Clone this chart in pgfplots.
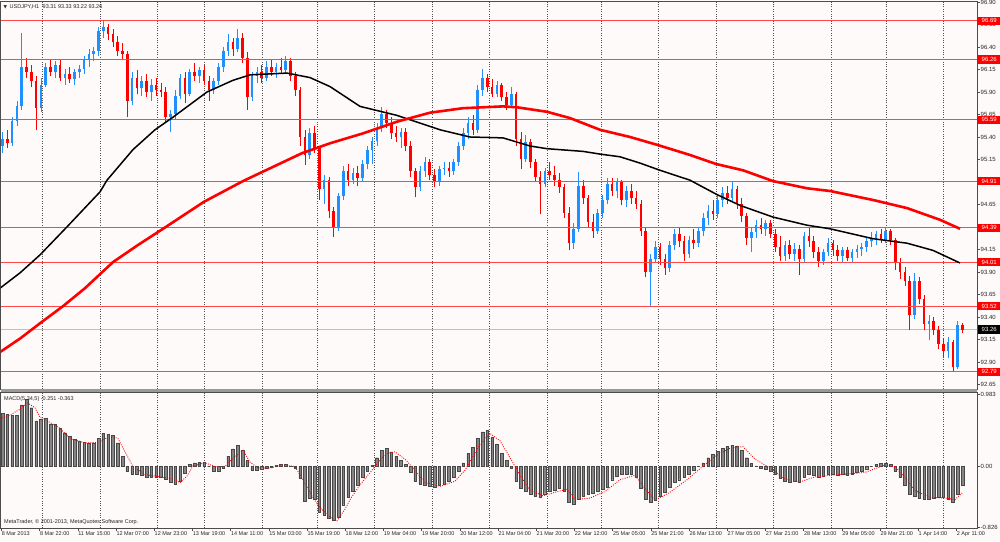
\documentclass[border=0pt]{standalone}
\usepackage{fontspec}
\setmainfont{Liberation Sans}
\newfontfamily\dejavu{DejaVu Sans}
\usepackage{pgfplots}
\usepackage{pgfplotstable}
\pgfplotsset{compat=1.18}
\definecolor{bg}{RGB}{254,250,249}
\definecolor{bullc}{RGB}{30,144,255}
\definecolor{bearc}{RGB}{255,0,0}
\definecolor{lvl}{RGB}{255,70,70}
\definecolor{gridc}{RGB}{80,80,80}
\newcommand{\sm}{\fontsize{5.5}{6}\selectfont}
\tikzset{gridl/.style={gridc, dash pattern=on 1pt off 1.4pt, line width=0.55pt}}

\pgfplotstableread{
x o h l c
2.5 95.30 95.45 95.22 95.38
12.1 95.33 95.62 95.30 95.58
16.9 95.58 95.80 95.52 95.74
21.7 95.74 96.55 95.70 96.18
40.9 95.72 96.05 95.68 95.98
45.7 95.98 96.22 95.95 96.18
55.3 96.12 96.24 96.05 96.20
64.9 96.06 96.15 95.98 96.10
74.5 96.04 96.16 95.98 96.12
79.3 96.12 96.20 96.06 96.16
84.1 96.16 96.30 96.10 96.26
88.9 96.26 96.38 96.18 96.32
93.7 96.32 96.40 96.24 96.36
98.5 96.36 96.62 96.30 96.58
103.3 96.58 96.70 96.50 96.62
132.1 95.80 96.12 95.75 96.05
141.7 95.94 96.08 95.85 96.02
151.3 95.90 96.04 95.80 95.98
170.5 95.62 95.70 95.45 95.66
175.3 95.66 95.92 95.60 95.86
180.1 95.86 96.10 95.82 96.06
189.7 95.88 96.16 95.85 96.12
199.3 96.08 96.18 96.00 96.14
213.7 95.92 96.06 95.88 96.02
218.5 96.02 96.22 95.98 96.18
223.3 96.18 96.40 96.12 96.36
228.1 96.36 96.54 96.30 96.46
237.7 96.38 96.60 96.34 96.50
252.1 95.84 96.12 95.80 96.08
256.9 96.08 96.18 96.00 96.12
266.5 96.06 96.24 96.02 96.18
276.1 96.12 96.22 96.06 96.18
285.7 96.14 96.30 96.10 96.24
309.7 95.20 95.50 95.16 95.44
324.1 94.82 94.98 94.66 94.92
338.5 94.40 94.78 94.36 94.74
343.3 94.74 95.08 94.70 95.02
352.9 94.92 95.06 94.88 95.00
362.5 94.94 95.14 94.90 95.10
367.3 95.10 95.30 95.04 95.26
372.1 95.26 95.40 95.10 95.36
376.9 95.36 95.56 95.30 95.50
381.7 95.50 95.73 95.46 95.66
400.9 95.40 95.50 95.28 95.46
420.1 94.84 95.08 94.80 95.02
424.9 95.02 95.18 94.96 95.12
439.3 94.90 95.08 94.86 95.04
444.1 95.04 95.12 94.98 95.06
453.7 95.02 95.16 94.98 95.12
458.5 95.12 95.34 95.08 95.30
463.3 95.30 95.50 95.26 95.44
468.1 95.44 95.62 95.38 95.56
477.7 95.48 95.98 95.44 95.92
482.5 95.92 96.15 95.86 96.06
496.9 95.88 96.02 95.84 95.98
511.3 95.76 95.96 95.72 95.88
525.7 95.16 95.42 95.12 95.34
544.9 94.88 95.06 94.84 95.02
573.7 94.22 94.44 94.16 94.38
578.5 94.38 95.01 94.34 94.86
597.7 94.36 94.60 94.32 94.56
602.5 94.56 94.76 94.50 94.70
607.3 94.70 94.94 94.66 94.88
616.9 94.80 94.94 94.72 94.90
626.5 94.70 94.86 94.62 94.80
650.5 93.90 94.10 93.51 94.04
655.3 94.04 94.24 94.00 94.18
669.7 93.94 94.24 93.90 94.20
674.5 94.20 94.38 94.14 94.32
688.9 94.10 94.30 94.06 94.26
698.5 94.22 94.40 94.18 94.36
703.3 94.36 94.56 94.30 94.50
708.1 94.50 94.64 94.42 94.58
717.7 94.54 94.74 94.50 94.70
722.5 94.70 94.84 94.62 94.78
732.1 94.72 94.90 94.68 94.82
751.3 94.28 94.40 94.12 94.34
756.1 94.34 94.48 94.28 94.42
765.7 94.38 94.48 94.30 94.44
784.9 94.08 94.24 94.02 94.20
794.5 94.10 94.22 94.02 94.16
804.1 94.04 94.34 94.00 94.30
823.3 94.02 94.16 93.98 94.12
828.1 94.12 94.28 94.08 94.22
842.5 94.08 94.18 94.00 94.14
852.1 94.06 94.16 94.00 94.12
856.9 94.12 94.20 94.06 94.16
861.7 94.16 94.22 94.08 94.18
866.5 94.18 94.28 94.12 94.24
871.3 94.24 94.34 94.18 94.28
876.1 94.28 94.36 94.20 94.32
885.7 94.26 94.40 94.22 94.36
914.5 93.42 93.89 93.38 93.80
928.9 93.32 93.42 93.14 93.36
948.1 93.02 93.18 92.94 93.12
957.7 92.84 93.36 92.82 93.31
}\bulltab

\pgfplotstableread{
x o h l c
7.3 95.38 95.48 95.28 95.33
26.5 96.18 96.28 96.05 96.12
31.3 96.12 96.20 95.95 96.02
36.1 96.02 96.08 95.48 95.72
50.5 96.18 96.26 96.08 96.12
60.1 96.20 96.25 96.02 96.06
69.7 96.10 96.18 96.00 96.04
108.1 96.62 96.66 96.48 96.54
112.9 96.54 96.60 96.40 96.45
117.7 96.45 96.52 96.30 96.36
122.5 96.36 96.44 96.25 96.32
127.3 96.32 96.36 95.62 95.80
136.9 96.05 96.14 95.88 95.94
146.5 96.02 96.10 95.84 95.90
156.1 95.98 96.05 95.86 95.92
160.9 95.92 96.00 95.84 95.90
165.7 95.90 95.95 95.55 95.62
184.9 96.06 96.12 95.78 95.88
194.5 96.12 96.22 96.02 96.08
204.1 96.14 96.20 95.98 96.02
208.9 96.02 96.08 95.80 95.92
232.9 96.46 96.50 96.30 96.38
242.5 96.50 96.56 96.22 96.28
247.3 96.28 96.34 95.70 95.84
261.7 96.12 96.20 96.00 96.06
271.3 96.18 96.26 96.08 96.12
280.9 96.18 96.28 96.10 96.14
290.5 96.24 96.28 96.02 96.08
295.3 96.08 96.12 95.85 95.92
300.1 95.92 95.96 95.30 95.40
304.9 95.40 95.48 95.09 95.20
314.5 95.44 95.52 95.22 95.28
319.3 95.28 95.30 94.70 94.82
328.9 94.92 94.96 94.50 94.58
333.7 94.58 94.62 94.29 94.40
348.1 95.02 95.10 94.86 94.92
357.7 95.00 95.08 94.86 94.94
386.5 95.66 95.70 95.50 95.56
391.3 95.56 95.62 95.38 95.44
396.1 95.44 95.52 95.34 95.40
405.7 95.46 95.50 95.24 95.30
410.5 95.30 95.36 94.96 95.02
415.3 95.02 95.06 94.73 94.84
429.7 95.12 95.16 94.92 94.98
434.5 94.98 95.04 94.84 94.90
448.9 95.06 95.12 94.96 95.02
472.9 95.56 95.64 95.42 95.48
487.3 96.06 96.10 95.90 95.96
492.1 95.96 96.04 95.84 95.88
501.7 95.98 96.00 95.80 95.84
506.5 95.84 95.90 95.70 95.76
516.1 95.88 95.90 95.30 95.38
520.9 95.38 95.46 95.04 95.16
530.5 95.34 95.38 95.06 95.12
535.3 95.12 95.16 94.90 94.96
540.1 94.96 95.02 94.54 94.88
549.7 95.02 95.12 94.92 94.98
554.5 94.98 95.08 94.86 94.92
559.3 94.92 95.00 94.78 94.84
564.1 94.84 94.88 94.50 94.56
568.9 94.56 94.62 94.14 94.22
583.3 94.86 94.92 94.66 94.72
588.1 94.72 94.76 94.40 94.46
592.9 94.46 94.54 94.28 94.36
612.1 94.88 94.94 94.74 94.80
621.7 94.90 94.92 94.64 94.70
631.3 94.80 94.88 94.66 94.72
636.1 94.72 94.80 94.60 94.66
640.9 94.66 94.70 94.30 94.36
645.7 94.36 94.40 93.84 93.90
660.1 94.18 94.22 93.98 94.04
664.9 94.04 94.10 93.87 93.94
679.3 94.32 94.40 94.18 94.24
684.1 94.24 94.30 94.02 94.10
693.7 94.26 94.38 94.16 94.22
712.9 94.58 94.70 94.48 94.54
727.3 94.78 94.86 94.66 94.72
736.9 94.82 94.86 94.60 94.66
741.7 94.66 94.72 94.46 94.52
746.5 94.52 94.56 94.20 94.28
760.9 94.42 94.50 94.32 94.38
770.5 94.44 94.48 94.28 94.32
775.3 94.32 94.38 94.12 94.18
780.1 94.18 94.30 94.02 94.08
789.7 94.20 94.26 94.04 94.10
799.3 94.16 94.20 93.87 94.04
808.9 94.30 94.40 94.18 94.24
813.7 94.24 94.30 94.06 94.12
818.5 94.12 94.18 93.96 94.02
832.9 94.22 94.26 94.08 94.14
837.7 94.14 94.20 94.02 94.08
847.3 94.14 94.18 94.02 94.06
880.9 94.32 94.38 94.22 94.26
890.5 94.36 94.38 94.20 94.26
895.3 94.26 94.28 93.92 94.00
900.1 94.00 94.06 93.82 93.90
904.9 93.90 93.96 93.74 93.80
909.7 93.80 93.86 93.26 93.42
919.3 93.80 93.84 93.54 93.60
924.1 93.60 93.64 93.26 93.32
933.7 93.36 93.40 93.20 93.26
938.5 93.26 93.30 93.04 93.10
943.3 93.10 93.16 92.96 93.02
952.9 93.12 93.14 92.79 92.84
962.5 93.31 93.33 93.22 93.26
}\beartab

\pgfplotstableread{
x p
0 93.72
20 93.89
40 94.09
66 94.39
100 94.79
107 94.92
133 95.26
140 95.33
155 95.48
173 95.62
207 95.90
233 96.03
250 96.09
287 96.11
310 96.06
330 95.96
360 95.74
397 95.64
440 95.48
470 95.40
503 95.39
530 95.30
547 95.27
583 95.24
600 95.21
620 95.18
640 95.11
660 95.03
690 94.92
717 94.76
740 94.64
773 94.51
807 94.42
830 94.38
873 94.27
907 94.22
933 94.14
960 94.00
}\blackma

\pgfplotstableread{
x p
0 93.01
20 93.16
40 93.33
63 93.52
85 93.72
113 94.01
138 94.20
163 94.38
204 94.68
243 94.91
262 95.01
302 95.22
330 95.33
363 95.44
397 95.57
430 95.67
463 95.72
503 95.74
517 95.73
547 95.68
570 95.61
600 95.48
630 95.40
658 95.31
690 95.20
716 95.10
743 95.03
773 94.91
807 94.83
830 94.80
873 94.70
907 94.61
940 94.48
960 94.38
}\redma

\pgfplotstableread{
x m
2.5 0.72
7.3 0.71
12.1 0.70
16.9 0.70
21.7 0.84
26.5 0.91
31.3 0.80
36.1 0.62
40.9 0.64
45.7 0.66
50.5 0.58
55.3 0.57
60.1 0.52
64.9 0.46
69.7 0.41
74.5 0.37
79.3 0.35
84.1 0.33
88.9 0.32
93.7 0.32
98.5 0.38
103.3 0.45
108.1 0.44
112.9 0.42
117.7 0.32
122.5 0.14
127.3 -0.07
132.1 -0.10
136.9 -0.11
141.7 -0.12
146.5 -0.14
151.3 -0.15
156.1 -0.15
160.9 -0.14
165.7 -0.17
170.5 -0.22
175.3 -0.24
180.1 -0.20
184.9 -0.09
189.7 0.03
194.5 0.05
199.3 0.06
204.1 0.06
208.9 0.00
213.7 -0.06
218.5 -0.06
223.3 -0.02
228.1 0.14
232.9 0.24
237.7 0.29
242.5 0.22
247.3 0.08
252.1 -0.05
256.9 -0.05
261.7 -0.03
266.5 -0.02
271.3 -0.01
276.1 0.02
280.9 0.03
285.7 0.03
290.5 0.01
295.3 -0.02
300.1 -0.16
304.9 -0.47
309.7 -0.43
314.5 -0.45
319.3 -0.62
324.1 -0.66
328.9 -0.71
333.7 -0.73
338.5 -0.69
343.3 -0.52
348.1 -0.42
352.9 -0.34
357.7 -0.25
362.5 -0.14
367.3 -0.06
372.1 0.02
376.9 0.12
381.7 0.22
386.5 0.25
391.3 0.20
396.1 0.14
400.9 0.08
405.7 0.03
410.5 -0.08
415.3 -0.20
420.1 -0.24
424.9 -0.25
429.7 -0.27
434.5 -0.28
439.3 -0.26
444.1 -0.24
448.9 -0.20
453.7 -0.15
458.5 -0.06
463.3 0.05
468.1 0.18
472.9 0.26
477.7 0.38
482.5 0.47
487.3 0.49
492.1 0.40
496.9 0.30
501.7 0.18
506.5 0.08
511.3 -0.02
516.1 -0.20
520.9 -0.30
525.7 -0.34
530.5 -0.38
535.3 -0.41
540.1 -0.42
544.9 -0.37
549.7 -0.34
554.5 -0.32
559.3 -0.30
564.1 -0.34
568.9 -0.48
573.7 -0.51
578.5 -0.44
583.3 -0.40
588.1 -0.38
592.9 -0.36
597.7 -0.34
602.5 -0.31
607.3 -0.28
612.1 -0.18
616.9 -0.13
621.7 -0.11
626.5 -0.10
631.3 -0.11
636.1 -0.14
640.9 -0.30
645.7 -0.45
650.5 -0.48
655.3 -0.46
660.1 -0.40
664.9 -0.35
669.7 -0.28
674.5 -0.22
679.3 -0.18
684.1 -0.15
688.9 -0.10
693.7 -0.05
698.5 0.00
703.3 0.05
708.1 0.12
712.9 0.17
717.7 0.21
722.5 0.25
727.3 0.27
732.1 0.29
736.9 0.28
741.7 0.22
746.5 0.12
751.3 0.04
756.1 0.01
760.9 -0.02
765.7 -0.04
770.5 -0.06
775.3 -0.10
780.1 -0.16
784.9 -0.20
789.7 -0.21
794.5 -0.20
799.3 -0.21
804.1 -0.14
808.9 -0.11
813.7 -0.12
818.5 -0.15
823.3 -0.13
828.1 -0.10
832.9 -0.10
837.7 -0.12
842.5 -0.11
847.3 -0.12
852.1 -0.10
856.9 -0.08
861.7 -0.06
866.5 -0.03
871.3 0.00
876.1 0.03
880.9 0.04
885.7 0.05
890.5 0.03
895.3 -0.06
900.1 -0.15
904.9 -0.26
909.7 -0.38
914.5 -0.40
919.3 -0.43
924.1 -0.44
928.9 -0.44
933.7 -0.43
938.5 -0.42
943.3 -0.42
948.1 -0.44
952.9 -0.49
957.7 -0.38
962.5 -0.25
}\macdtab

\pgfplotstableread{
x v
0 0.65
10 0.70
20 0.78
27 0.87
35 0.80
40 0.67
50 0.60
60 0.52
70 0.38
85 0.32
100 0.33
110 0.42
118 0.38
125 0.20
133 0.00
145 -0.11
160 -0.14
175 -0.18
180 -0.22
187 -0.13
193 0.01
205 0.05
215 0.00
225 0.00
232 0.10
243 0.22
250 0.06
258 -0.02
270 -0.02
283 0.02
295 0.00
303 -0.18
312 -0.40
320 -0.56
330 -0.69
337 -0.74
345 -0.58
350 -0.45
360 -0.25
372 -0.05
385 0.17
395 0.20
405 0.10
415 -0.05
425 -0.22
440 -0.27
455 -0.20
465 -0.05
480 0.30
490 0.45
500 0.35
510 0.12
520 -0.12
530 -0.32
543 -0.40
555 -0.35
567 -0.31
575 -0.45
590 -0.43
605 -0.34
620 -0.18
635 -0.12
645 -0.30
655 -0.46
670 -0.35
687 -0.18
700 -0.03
715 0.14
730 0.25
743 0.27
755 0.10
770 -0.02
785 -0.17
800 -0.21
815 -0.14
840 -0.11
865 -0.08
885 0.02
895 0.00
905 -0.15
915 -0.33
930 -0.42
945 -0.43
955 -0.45
962 -0.36
}\sigtab

\pgfplotsset{
  mtaxis/.style={
    scale only axis, anchor=south west,
    xmin=0.5, xmax=977,
    axis background/.style={fill=bg},
    axis line style={black!70, line width=0.8pt},
    tick align=outside, major tick length=2.5pt,
    tick style={black!70, line width=0.5pt},
    ytick pos=right, yticklabel pos=right,
    yticklabel style={font=\fontsize{6}{7}\selectfont, text=black!85, anchor=west, inner sep=1pt},
  },
  candle/.style 2 args={draw=none, no markers, forget plot,
    error bars/.cd, y dir=plus, y explicit, error mark=none,
    error bar style={line width=#1, draw=#2}},
}

\begin{document}
\begin{tikzpicture}[x=1pt,y=1pt]
\fill[bg] (0,0) rectangle (1000,541);
\useasboundingbox (0,0) rectangle (1000,541);

% ---------- main price panel ----------
\begin{axis}[mtaxis,
  at={(0.5pt,152pt)}, width=976.5pt, height=388pt,
  ymin=92.600, ymax=96.911,
  xtick=\empty,
  ytick={92.65,92.90,93.15,93.40,93.65,93.90,94.15,94.65,95.15,95.40,95.65,95.90,96.15,96.40,96.65,96.90},
  yticklabels={92.65,92.90,93.15,93.40,93.65,93.90,94.15,94.65,95.15,95.40,95.65,95.90,96.15,96.40,96.65,96.90},
]
\pgfplotsinvokeforeach{42,100,157,204,262,317,374,432,489,547,601,658,716,773,831,886,943}{
  \draw[gridl] (axis cs:#1,92.600) -- (axis cs:#1,96.911);
}
% current price line
\addplot[black!25, line width=0.8pt, forget plot] coordinates {(0.5,93.26) (977,93.26)};
% wicks
\addplot[candle={0.8pt}{bullc}]
  table[x=x, y=l, y error plus expr=\thisrow{h}-\thisrow{l}] {\bulltab};
\addplot[candle={0.8pt}{bearc}]
  table[x=x, y=l, y error plus expr=\thisrow{h}-\thisrow{l}] {\beartab};
% bodies
\addplot[candle={2.5pt}{bullc}]
  table[x=x, y=o, y error plus expr=\thisrow{c}-\thisrow{o}] {\bulltab};
\addplot[candle={2.5pt}{bearc}]
  table[x=x, y=c, y error plus expr=\thisrow{o}-\thisrow{c}] {\beartab};
% levels
\addplot[lvl, line width=0.8pt, forget plot] coordinates {(0.5,96.69) (977,96.69)};
\addplot[lvl, line width=0.8pt, forget plot] coordinates {(0.5,96.26) (977,96.26)};
\addplot[lvl, line width=0.8pt, forget plot] coordinates {(0.5,95.59) (977,95.59)};
\addplot[lvl, line width=0.8pt, forget plot] coordinates {(0.5,94.91) (977,94.91)};
\addplot[lvl, line width=0.8pt, forget plot] coordinates {(0.5,94.39) (977,94.39)};
\addplot[lvl, line width=0.8pt, forget plot] coordinates {(0.5,94.01) (977,94.01)};
\addplot[lvl, line width=0.8pt, forget plot] coordinates {(0.5,93.52) (977,93.52)};
\addplot[lvl, line width=0.8pt, forget plot] coordinates {(0.5,92.79) (977,92.79)};
% moving averages
\addplot[black, line width=1.5pt, forget plot] table[x=x, y=p] {\blackma};
\addplot[red, line width=2.6pt, forget plot] table[x=x, y=p] {\redma};
\coordinate (q1) at (axis cs:977,96.69);
\coordinate (q2) at (axis cs:977,96.26);
\coordinate (q3) at (axis cs:977,95.59);
\coordinate (q4) at (axis cs:977,94.91);
\coordinate (q5) at (axis cs:977,94.39);
\coordinate (q6) at (axis cs:977,94.01);
\coordinate (q7) at (axis cs:977,93.52);
\coordinate (q8) at (axis cs:977,92.79);
\coordinate (qc) at (axis cs:977,93.26);
\end{axis}

% separator
\fill[black!40] (0.5,149) rectangle (977,152);

% ---------- MACD panel ----------
\begin{axis}[mtaxis,
  at={(0.5pt,13pt)}, width=976.5pt, height=136pt,
  ymin=-0.837, ymax=1.014,
  xtick pos=left,
  xtick={1.5,39.7,77.9,116.1,154.3,192.5,230.7,268.9,307.1,345.3,383.5,421.7,459.9,498.1,536.3,574.5,612.7,650.9,689.1,727.3,765.5,803.7,841.9,880.1,918.3,956.5},
  xticklabels={8 Mar 2013,8 Mar 22:00,11 Mar 15:00,12 Mar 07:00,12 Mar 23:00,13 Mar 19:00,14 Mar 11:00,15 Mar 03:00,15 Mar 19:00,18 Mar 12:00,19 Mar 04:00,19 Mar 20:00,20 Mar 12:00,21 Mar 04:00,21 Mar 20:00,22 Mar 12:00,25 Mar 05:00,25 Mar 21:00,26 Mar 13:00,27 Mar 05:00,27 Mar 21:00,28 Mar 13:00,29 Mar 05:00,29 Mar 21:00,1 Apr 14:00,2 Apr 11:00},
  xticklabel style={anchor=north west, font=\sm, text=black!85, inner sep=0.8pt, xshift=-0.6pt},
  ytick={-0.826,0,0.983},
  yticklabels={-0.826,0.00,0.983},
]
\pgfplotsinvokeforeach{42,100,157,204,262,317,374,432,489,547,601,658,716,773,831,886,943}{
  \draw[gridl] (axis cs:#1,-0.837) -- (axis cs:#1,1.014);
}
\addplot[ybar, bar width=2.7pt, fill=black!48, draw=black!72, line width=0.35pt, forget plot]
  table[x=x, y=m] {\macdtab};
\addplot[red, line width=0.9pt, dash pattern=on 0.9pt off 1.4pt, forget plot]
  table[x=x, y=v] {\sigtab};
\end{axis}

% price boxes
\tikzset{pl/.style={anchor=west, fill=red, text=white, font=\fontsize{6}{7}\selectfont,
  inner xsep=1.2pt, inner ysep=0.6pt, minimum height=8.5pt, minimum width=22pt, xshift=1pt}}
\node[pl] at (q1) {96.69};
\node[pl] at (q2) {96.26};
\node[pl] at (q3) {95.59};
\node[pl] at (q4) {94.91};
\node[pl] at (q5) {94.39};
\node[pl] at (q6) {94.01};
\node[pl] at (q7) {93.52};
\node[pl] at (q8) {92.79};
\node[pl, fill=black] at (qc) {93.26};

% texts
\node[anchor=west, inner sep=0, font=\sm, text=black!85] at (3.5,534.5)
  {{\dejavu\fontsize{4.5}{5}\selectfont ▼}\hspace{2.5pt}USDJPY,H1\hspace{2pt} 93.31 93.33 93.22 93.26};
\node[anchor=west, inner sep=0, font=\sm, text=black!85] at (4,142) {MACD(5,34,5) -0.251 -0.363};
\node[anchor=west, inner sep=0, font=\sm, text=black!85] at (4,19) {MetaTrader, © 2001-2013, MetaQuotes Software Corp.};
\end{tikzpicture}
\end{document}
